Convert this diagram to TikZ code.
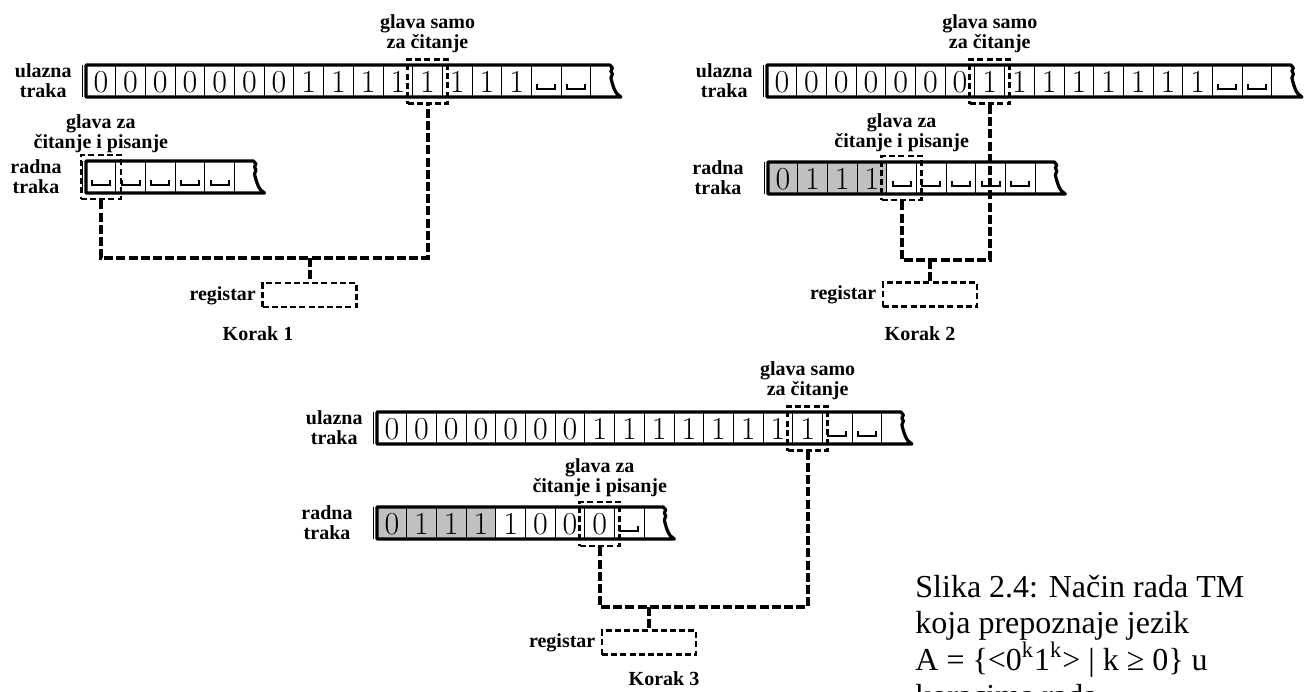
\documentclass[tikz,border=0pt]{standalone}
\usepackage{fontspec}
\newfontfamily\tnr{Liberation Serif}
\usetikzlibrary{calc}
\definecolor{tapegray}{RGB}{192,192,192}
\def\blankcode{b}
\tikzset{
  lbl/.style={font=\tnr\bfseries\fontsize{10}{10}\selectfont, align=center, inner sep=0pt},
  captxt/.style={font=\tnr\fontsize{16}{18.5}\selectfont, inner sep=0pt, anchor=base west},
  headbox/.style={draw, line width=1.3pt, dash pattern=on 3pt off 1.6pt, minimum width=20pt, minimum height=22pt, inner sep=0pt},
  regbox/.style={draw, line width=1.3pt, dash pattern=on 3pt off 1.6pt, minimum width=47pt, minimum height=12pt, inner sep=0pt},
  link/.style={line width=2pt, dash pattern=on 4.5pt off 1.6pt},
  tapeedge/.style={line width=1.6pt, line join=round, line cap=round},
  cellsep/.style={line width=0.5pt},
  digit/.style={font=\fontsize{16}{16}\selectfont, inner sep=0pt, anchor=base},
  cup/.style={line width=1pt}
}
% #1 prefix, #2 x left, #3 y top, #4 number of cells, #5 grey cells, #6 symbols
\newcommand{\turingtape}[6]{%
  \pgfmathsetmacro{\xe}{#2+#4*29.7}%
  \ifnum#5>0 \fill[tapegray] (#2,#3) rectangle ({#2+#5*29.7},#3+32);\fi
  \foreach \s [count=\i] in {#6} {%
    \pgfmathsetmacro{\cx}{#2+(\i-0.5)*29.7}%
    \pgfmathsetmacro{\cr}{#2+\i*29.7}%
    \draw[cellsep] (\cr,#3) -- (\cr,#3+32);
    \edef\cur{\s}%
    \ifx\cur\blankcode
      \draw[cup] (\cx-9,#3+19) -- (\cx-9,#3+24) -- (\cx+9,#3+24) -- (\cx+9,#3+19);
    \else
      \node[digit] (#1-\i) at (\cx,#3+27.5) {\s};
    \fi
  }
  \draw[tapeedge] (#2,#3) -- (\xe+19,#3) -- +(2.5,3) -- +(1,6) -- +(2.5,9) -- +(1,13)
     .. controls +(2,8) and +(-6,-3) .. (\xe+30,#3+32) -- (#2,#3+32) -- cycle;
  \draw[cellsep] (#2-4,#3) -- (#2-4,#3+32);
}
\begin{document}
\begin{tikzpicture}[x=0.5pt,y=-0.5pt]
\useasboundingbox (0,0) rectangle (1309,691);

% ---------------- Korak 1
\turingtape{inA}{86}{65}{17}{0}{0,0,0,0,0,0,0,1,1,1,1,1,1,1,1,b,b}
\turingtape{wkA}{86}{161}{5}{0}{b,b,b,b,b}
\node[lbl, anchor=east] (ulA) at (72,81) {ulazna\\traka};
\node[lbl, anchor=east] (rdA) at (62,177) {radna\\traka};
\node[headbox] (hinA) at (427.55,81.5) {};
\node[headbox] (hwkA) at (100.85,177) {};
\node[lbl, anchor=south] (ginA) at ([yshift=2.5pt]hinA.north) {glava samo\\za čitanje};
\node[lbl, anchor=south] (gwkA) at ([yshift=0.5pt]hwkA.north) {glava za\\čitanje i pisanje};
\node[regbox] (regA) at (309.5,295) {};
\node[lbl, anchor=base east] (rlA) at ([xshift=-2.5pt,yshift=-2.5pt]regA.west) {registar};
\coordinate (jA) at (309.5,258);
\draw[link] (hwkA.south) |- (jA) -| (hinA.south);
\draw[link] (jA) -- (regA.north);
\node[lbl, anchor=base] (kA) at (258,340) {Korak 1};

% ---------------- Korak 2
\turingtape{inB}{767}{65}{17}{0}{0,0,0,0,0,0,0,1,1,1,1,1,1,1,1,b,b}
\turingtape{wkB}{768}{162}{9}{4}{0,1,1,1,b,b,b,b,b}
\node[lbl, anchor=east] (ulB) at (753,81) {ulazna\\traka};
\node[lbl, anchor=east] (rdB) at (744,178) {radna\\traka};
\node[headbox] (hinB) at (989.75,81.5) {};
\node[headbox] (hwkB) at (901.65,178) {};
\node[lbl, anchor=south] (ginB) at ([yshift=2.5pt]hinB.north) {glava samo\\za čitanje};
\node[lbl, anchor=south] (gwkB) at ([yshift=1.5pt]hwkB.north) {glava za\\čitanje i pisanje};
\node[regbox] (regB) at (930,294.5) {};
\node[lbl, anchor=base east] (rlB) at ([xshift=-2.5pt,yshift=-2.5pt]regB.west) {registar};
\coordinate (jB) at (930,260);
\draw[link] (hwkB.south) |- (jB) -| (hinB.south);
\draw[link] (jB) -- (regB.north);
\node[lbl, anchor=base] (kB) at (920,340) {Korak 2};

% ---------------- Korak 3
\turingtape{inC}{377}{412}{17}{0}{0,0,0,0,0,0,0,1,1,1,1,1,1,1,1,b,b}
\turingtape{wkC}{377}{507}{9}{4}{0,1,1,1,1,0,0,0,b}
\node[lbl, anchor=east] (ulC) at (363,428) {ulazna\\traka};
\node[lbl, anchor=east] (rdC) at (353,523) {radna\\traka};
\node[headbox] (hinC) at (807.65,428.5) {};
\node[headbox] (hwkC) at (599.75,524) {};
\node[lbl, anchor=south] (ginC) at ([yshift=2.5pt]hinC.north) {glava samo\\za čitanje};
\node[lbl, anchor=south] (gwkC) at ([yshift=2pt]hwkC.north) {glava za\\čitanje i pisanje};
\node[regbox] (regC) at (649,642.5) {};
\node[lbl, anchor=base east] (rlC) at ([xshift=-2.5pt,yshift=-2.5pt]regC.west) {registar};
\coordinate (jC) at (649,607);
\draw[link] (hwkC.south) |- (jC) -| (hinC.south);
\draw[link] (jC) -- (regC.north);
\node[lbl, anchor=base] (kC) at (664,685) {Korak 3};

% ---------------- caption
\node[captxt] (capa) at (915,597) {Slika 2.4: Način rada TM};
\node[captxt] (capb) at (915,633) {koja prepoznaje jezik};
\node[captxt] (capc) at (915,670) {A = \{<0\textsuperscript{k}1\textsuperscript{k}> | k ≥ 0\} u};
\begin{scope}
\clip (0,0) rectangle (1309,691);
\node[captxt] (capd) at (915,706) {koracima rada};
\end{scope}
\end{tikzpicture}
\end{document}
